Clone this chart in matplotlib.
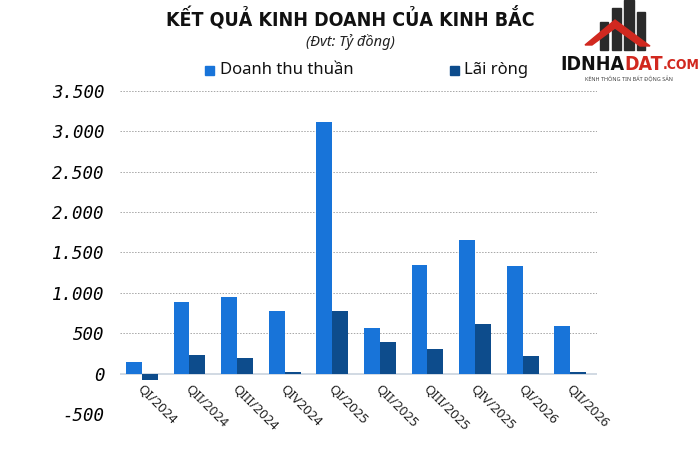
import matplotlib
matplotlib.use("Agg")
import matplotlib.pyplot as plt
from matplotlib.patches import Rectangle, Polygon
from matplotlib.transforms import offset_copy
import numpy as np

categories = ["QI/2024", "QII/2024", "QIII/2024", "QIV2024", "QI/2025",
              "QII/2025", "QIII/2025", "QIV/2025", "QI/2026", "QII/2026"]
revenue = [149, 893, 955, 781, 3112, 570, 1346, 1653, 1330, 595]
net_profit = [-85, 236, 198, 25, 781, 397, 310, 611, 223, 20]
yticks = [-500, 0, 500, 1000, 1500, 2000, 2500, 3000, 3500]
ytick_labels = ["-500", "0", "500", "1.000", "1.500", "2.000", "2.500", "3.000", "3.500"]

c_rev = "#1874D9"
c_np = "#0D4C8C"

fig = plt.figure(figsize=(7, 4.57), dpi=100)
ax = fig.add_axes([0.1714, 0.0941, 0.6814, 0.7068])

x = np.arange(len(categories))
w = 0.335
ax.bar(x - w / 2, revenue, w, color=c_rev, zorder=3)
ax.bar(x + w / 2, net_profit, w, color=c_np, zorder=3)

ax.set_ylim(-500, 3500)
ax.set_xlim(-0.46, 9.56)
ax.set_yticks(yticks)
ax.set_yticklabels(ytick_labels, family="DejaVu Sans Mono", style="italic", fontsize=12.5)
ax.tick_params(axis="y", length=0, pad=11)
ax.set_xticks([])
for s in ax.spines.values():
    s.set_visible(False)
for t in yticks:
    if t == 0:
        ax.axhline(t, color="#C9D3DE", lw=1.2, zorder=2)
    else:
        ax.axhline(t, color="#A6A6A6", lw=0.7, ls=(0, (1.5, 1.5)), zorder=1)

trans = offset_copy(ax.transData, fig=fig, x=2, y=-9, units="dots")
for i, lab in enumerate(categories):
    ax.text(x[i], 0, lab, transform=trans, rotation=-45, rotation_mode="anchor",
            ha="left", va="top", fontsize=9.5, family="Noto Sans", color="#222222")

cond = dict(family="DejaVu Sans", fontstretch="condensed", fontweight="bold")
fig.text(0.5, 0.962, "KẾT QUẢ KINH DOANH CỦA KINH BẮC", ha="center", va="center",
         fontsize=14, color="#111111", **cond)
fig.text(0.5, 0.908, "(Đvt: Tỷ đồng)", ha="center", va="center",
         fontsize=10.5, style="italic", family="Noto Sans", color="#222222")

# legend
ly = 1 - 70 / 457
fig.patches.append(Rectangle((205 / 700, ly - 0.011), 9 / 700, 9 / 457,
                             transform=fig.transFigure, color=c_rev))
fig.text(220 / 700, ly, "Doanh thu thuần", ha="left", va="center",
         fontsize=12, family="Noto Sans", color="#111111")
fig.patches.append(Rectangle((450 / 700, ly - 0.011), 9 / 700, 9 / 457,
                             transform=fig.transFigure, color=c_np))
fig.text(464 / 700, ly, "Lãi ròng", ha="left", va="center",
         fontsize=12, family="Noto Sans", color="#111111")

# logo (simplified)
for bx, bh, bw in [(612, 42, 9), (624, 50, 10), (637, 38, 8), (600, 28, 8)]:
    fig.patches.append(Rectangle((bx / 700, 1 - 50 / 457), bw / 700, bh / 457,
                                 transform=fig.transFigure, color="#2A2A2A"))
fig.patches.append(Polygon([(585 / 700, 1 - 45 / 457), (615 / 700, 1 - 20 / 457),
                            (650 / 700, 1 - 46 / 457), (640 / 700, 1 - 46 / 457),
                            (615 / 700, 1 - 28 / 457), (592 / 700, 1 - 45 / 457)],
                           closed=True, transform=fig.transFigure, color="#D1281F"))
renderer = fig.canvas.get_renderer()
xpos = 560
for txt, col, fs in [("IDNHA", "#111111", 14), ("DAT", "#D1281F", 14), (".COM", "#D1281F", 10)]:
    t = fig.text(xpos / 700, 1 - 65 / 457, txt, ha="left", va="center",
                 fontsize=fs, color=col, **cond)
    bb = t.get_window_extent(renderer)
    xpos += bb.width
fig.text(629 / 700, 1 - 79 / 457, "KÊNH THÔNG TIN BẤT ĐỘNG SẢN", ha="center", va="center",
         fontsize=4, family="Noto Sans", color="#444444")

fig.savefig("out.png", dpi=100, facecolor="white")
